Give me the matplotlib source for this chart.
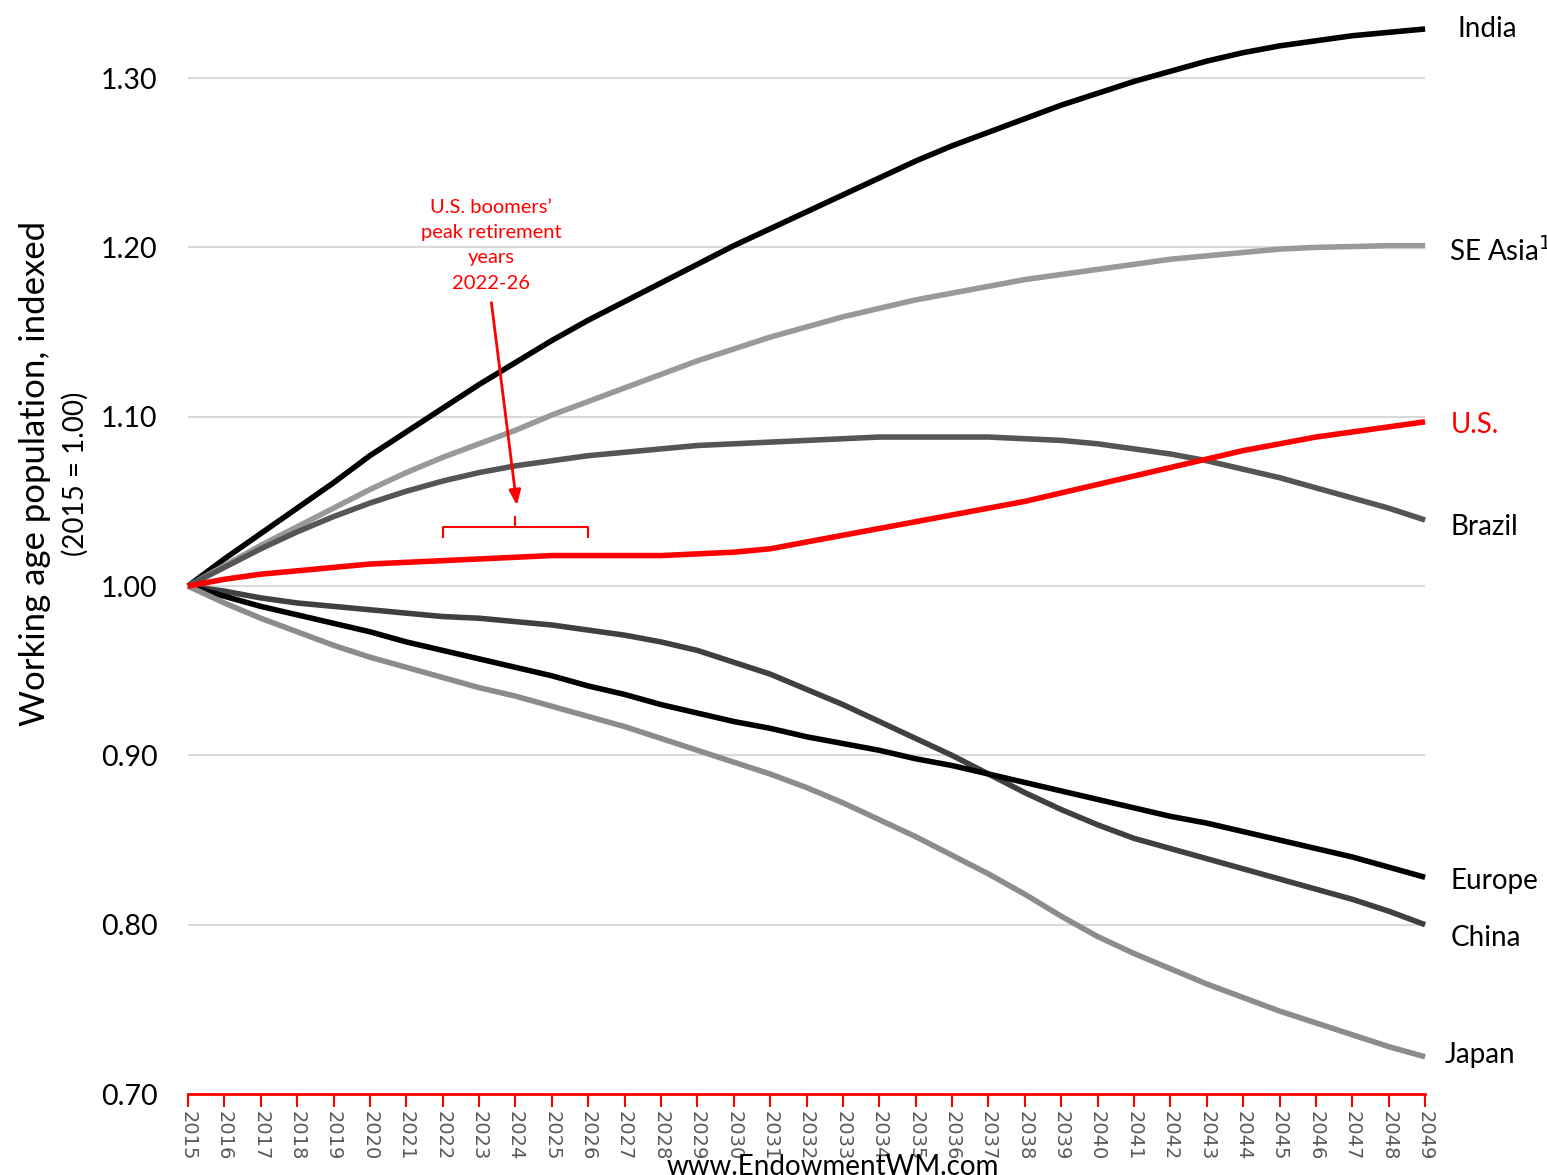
import numpy as np
import matplotlib.pyplot as plt

years = np.arange(2015, 2050)

india = [1.000, 1.016, 1.031, 1.046, 1.061, 1.077, 1.091, 1.105, 1.119, 1.132,
         1.145, 1.157, 1.168, 1.179, 1.190, 1.201, 1.211, 1.221, 1.231, 1.241,
         1.251, 1.260, 1.268, 1.276, 1.284, 1.291, 1.298, 1.304, 1.310, 1.315,
         1.319, 1.322, 1.325, 1.327, 1.329]
se_asia = [1.000, 1.012, 1.024, 1.035, 1.046, 1.057, 1.067, 1.076, 1.084, 1.092,
           1.101, 1.109, 1.117, 1.125, 1.133, 1.140, 1.147, 1.153, 1.159, 1.164,
           1.169, 1.173, 1.177, 1.181, 1.184, 1.187, 1.190, 1.193, 1.195, 1.197,
           1.199, 1.200, 1.2005, 1.201, 1.201]
brazil = [1.000, 1.011, 1.022, 1.032, 1.041, 1.049, 1.056, 1.062, 1.067, 1.071,
          1.074, 1.077, 1.079, 1.081, 1.083, 1.084, 1.085, 1.086, 1.087, 1.088,
          1.088, 1.088, 1.088, 1.087, 1.086, 1.084, 1.081, 1.078, 1.074, 1.069,
          1.064, 1.058, 1.052, 1.046, 1.039]
us = [1.000, 1.004, 1.007, 1.009, 1.011, 1.013, 1.014, 1.015, 1.016, 1.017,
      1.018, 1.018, 1.018, 1.018, 1.019, 1.020, 1.022, 1.026, 1.030, 1.034,
      1.038, 1.042, 1.046, 1.050, 1.055, 1.060, 1.065, 1.070, 1.075, 1.080,
      1.084, 1.088, 1.091, 1.094, 1.097]
china = [1.000, 0.997, 0.993, 0.990, 0.988, 0.986, 0.984, 0.982, 0.981, 0.979,
         0.977, 0.974, 0.971, 0.967, 0.962, 0.955, 0.948, 0.939, 0.930, 0.920,
         0.910, 0.900, 0.889, 0.878, 0.868, 0.859, 0.851, 0.845, 0.839, 0.833,
         0.827, 0.821, 0.815, 0.808, 0.800]
europe = [1.000, 0.994, 0.988, 0.983, 0.978, 0.973, 0.967, 0.962, 0.957, 0.952,
          0.947, 0.941, 0.936, 0.930, 0.925, 0.920, 0.916, 0.911, 0.907, 0.903,
          0.898, 0.894, 0.889, 0.884, 0.879, 0.874, 0.869, 0.864, 0.860, 0.855,
          0.850, 0.845, 0.840, 0.834, 0.828]
japan = [1.000, 0.990, 0.981, 0.973, 0.965, 0.958, 0.952, 0.946, 0.940, 0.935,
         0.929, 0.923, 0.917, 0.910, 0.903, 0.896, 0.889, 0.881, 0.872, 0.862,
         0.852, 0.841, 0.830, 0.818, 0.805, 0.793, 0.783, 0.774, 0.765, 0.757,
         0.749, 0.742, 0.735, 0.728, 0.722]

series = [
    ("India", india, "#000000"),
    ("SE Asia$^1$", se_asia, "#999999"),
    ("Brazil", brazil, "#555555"),
    ("China", china, "#404040"),
    ("Europe", europe, "#000000"),
    ("Japan", japan, "#8c8c8c"),
    ("U.S.", us, "#ff0000"),
]
label_y = {"India": 1.329, "SE Asia$^1$": 1.198, "Brazil": 1.035, "China": 0.792,
           "Europe": 0.826, "Japan": 0.723, "U.S.": 1.095}
label_dx = {"India": 0.9, "SE Asia$^1$": 0.65, "Brazil": 0.7, "China": 0.7,
            "Europe": 0.7, "Japan": 0.55, "U.S.": 0.7}

plt.rcParams['font.family'] = ['Lato', 'DejaVu Sans']

fig = plt.figure(figsize=(15.47, 11.75), dpi=100)
ax = fig.add_axes([0.1215, 0.0689, 0.7997, 0.9079])

for y in [0.8, 0.9, 1.0, 1.1, 1.2, 1.3]:
    ax.axhline(y, color="#d9d9d9", lw=1.5, zorder=1)

for name, vals, col in series:
    ax.plot(years, vals, color=col, lw=4, solid_capstyle="butt", zorder=3, clip_on=False)
    ax.text(2049 + label_dx[name], label_y[name], name, fontsize=20,
            color="#ff0000" if name == "U.S." else "black", va="center", ha="left")

ax.set_xlim(2015, 2049)
ax.set_ylim(0.70, 1.33)
ax.set_yticks([0.7, 0.8, 0.9, 1.0, 1.1, 1.2, 1.3])
ax.set_yticklabels([f"{v:.2f}" for v in [0.7, 0.8, 0.9, 1.0, 1.1, 1.2, 1.3]], fontsize=20.5)
ax.tick_params(axis="y", length=0, pad=22)
ax.set_xticks(years)
ax.set_xticklabels([str(y) for y in years], rotation=-90, fontsize=14,
                   color="#595959", family="DejaVu Sans")
ax.tick_params(axis="x", direction="out", length=9, width=1.5, color="#ff0000", pad=3)
for s in ["top", "right", "left"]:
    ax.spines[s].set_visible(False)
ax.spines["bottom"].set_color("#ff0000")
ax.spines["bottom"].set_linewidth(2)

fig.text(0.012, 0.597, "Working age population, indexed", rotation=90,
         fontsize=25, ha="left", va="center")
fig.text(0.040, 0.597, "(2015 = 1.00)", rotation=90, fontsize=20,
         ha="left", va="center")

# boomer retirement callout
ax.text(2023.33, 1.2013, "U.S. boomers’\npeak retirement\nyears\n2022-26", color="#ff0000",
        fontsize=14.5, ha="center", va="center", linespacing=1.6)
ax.annotate("", xy=(2024.05, 1.046), xytext=(2023.33, 1.169),
            arrowprops=dict(arrowstyle="-|>,head_length=0.9,head_width=0.35",
                            color="#ff0000", lw=2))
bx = [2022, 2022, 2024, 2024, 2024, 2026, 2026]
by = [1.029, 1.035, 1.035, 1.041, 1.035, 1.035, 1.029]
ax.plot(bx, by, color="#ff0000", lw=1.5, zorder=4)

fig.text(0.538, -0.004, "www.EndowmentWM.com", fontsize=20, ha="center", va="bottom")

fig.savefig("out.png", dpi=100)
